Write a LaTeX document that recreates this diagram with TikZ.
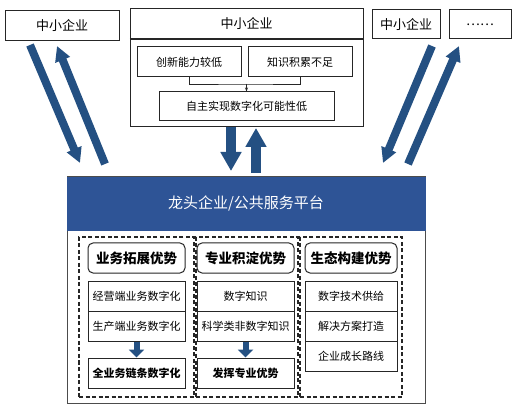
\documentclass[tikz,border=0pt]{standalone}
\usepackage{fontspec}
\setmainfont{Noto Sans CJK SC}
\usetikzlibrary{arrows.meta,calc}
\definecolor{hdrblue}{RGB}{46,84,150}
\definecolor{arrblue}{RGB}{36,80,130}
\begin{document}
\begin{tikzpicture}[x=1pt,y=-1pt,
  box/.style={draw=black!85,line width=1pt,fill=white,inner sep=0pt,align=center,font=\fontsize{11}{13}\selectfont},
  topbox/.style={box,font=\fontsize{13}{15}\selectfont},
  headbox/.style={draw=black!85,line width=1pt,rounded corners=5pt,inner sep=0pt,minimum width=97pt,minimum height=30pt,font=\fontsize{13.5}{15}\selectfont\bfseries},
  cell/.style={box,minimum height=30pt},
  dbox/.style={draw=black!85,line width=1.2pt,dash pattern=on 4pt off 2.5pt,minimum height=160pt,inner sep=0pt},
  bigarrow/.style={draw=arrblue,line width=8pt,-{Triangle[width=15pt,length=15pt]}},
  midarrow/.style={draw=arrblue,line width=10pt,-{Triangle[width=20pt,length=19pt]}},
  smallarrow/.style={draw=arrblue,line width=6pt,-{Triangle[width=15pt,length=8pt]}}
]
\useasboundingbox (0,0) rectangle (520,409);
\fill[white] (0,0) rectangle (520,409);

% top boxes
\node[topbox,minimum width=114pt,minimum height=30pt] (s1) at (62,26) {中小企业};
\node[draw=black!85,line width=1pt,minimum width=233pt,minimum height=118pt,inner sep=0pt] (grp) at (246.5,68) {};
\node[inner sep=0pt,minimum width=233pt,minimum height=30pt,font=\fontsize{13}{15}\selectfont] (s2) at (246.5,24) {中小企业};
\draw[black!85,line width=2pt] (s2.south west) -- (s2.south east);
\node[box,minimum width=104pt,minimum height=30pt] (a1) at (189,62) {创新能力较低};
\node[box,minimum width=104pt,minimum height=30pt] (a2) at (300,62) {知识积累不足};
\node[box,minimum width=175pt,minimum height=29pt] (a3) at (246.5,106.5) {自主实现数字化可能性低};
\coordinate (j) at (246.5,84);
\draw[black!85,line width=0.8pt] (a1.south) |- (j) -| (a2.south);
\draw[black!85,line width=0.8pt,-{Stealth[length=4pt,width=3pt]}] (j) -- (a3.north);

\node[topbox,minimum width=68pt,minimum height=29pt] (s3) at (406,24.5) {中小企业};
\node[topbox,minimum width=62pt,minimum height=29pt] (s4) at (480,24.5) {……};

% platform
\node[draw=black!70,line width=1pt,minimum width=358pt,minimum height=226pt,inner sep=0pt] (outer) at (246,290) {};
\node[fill=hdrblue,draw=hdrblue,minimum width=358pt,minimum height=53pt,inner sep=0pt,text=white,font=\fontsize{15}{17}\selectfont] (plat) at (246,203.5) {龙头企业/公共服务平台};

% dashed groups
\node[dbox,minimum width=115pt] (d1) at (136.5,317) {};
\node[dbox,minimum width=102pt] (d2) at (247,317) {};
\node[dbox,minimum width=102pt] (d3) at (351,317) {};

\node[headbox] (h1) at (136.5,258) {业务拓展优势};
\node[headbox] (h2) at (245.5,258) {专业积淀优势};
\node[headbox,minimum width=92pt] (h3) at (351,258) {生态构建优势};

\node[cell,minimum width=97pt] (l1) at (136.5,296) {经营端业务数字化};
\node[cell,minimum width=97pt] (l2) at (136.5,326) {生产端业务数字化};
\node[cell,minimum width=97pt,font=\fontsize{11}{13}\selectfont\bfseries] (l3) at (136.5,373) {全业务链条数字化};

\node[cell,minimum width=97pt] (m1) at (245.5,296) {数字知识};
\node[cell,minimum width=97pt] (m2) at (245.5,326) {科学类非数字知识};
\node[cell,minimum width=97pt,font=\fontsize{11}{13}\selectfont\bfseries] (m3) at (245.5,373) {发挥专业优势};

\node[cell,minimum width=92pt] (r1) at (351,296) {数字技术供给};
\node[cell,minimum width=92pt] (r2) at (351,326) {解决方案打造};
\node[cell,minimum width=92pt] (r3) at (351,356) {企业成长路线};

\draw[smallarrow] (l2.south) -- (l3.north);
\draw[smallarrow] (m2.south) -- (m3.north);

% big arrows
\coordinate (p1) at (30,45);   \coordinate (q1) at (80,163);
\coordinate (p2) at (105,164); \coordinate (q2) at (57,46);
\draw[bigarrow] (p1) -- (q1);
\draw[bigarrow] (p2) -- (q2);

\coordinate (p3) at (231,127); \coordinate (q3) at (231,171);
\coordinate (p4) at (256,173); \coordinate (q4) at (256,128);
\draw[midarrow] (p3) -- (q3);
\draw[midarrow] (p4) -- (q4);

\coordinate (p5) at (432,46);  \coordinate (q5) at (383,163);
\coordinate (p6) at (408,164); \coordinate (q6) at (459,46);
\draw[bigarrow] (p5) -- (q5);
\draw[bigarrow] (p6) -- (q6);
\end{tikzpicture}
\end{document}
